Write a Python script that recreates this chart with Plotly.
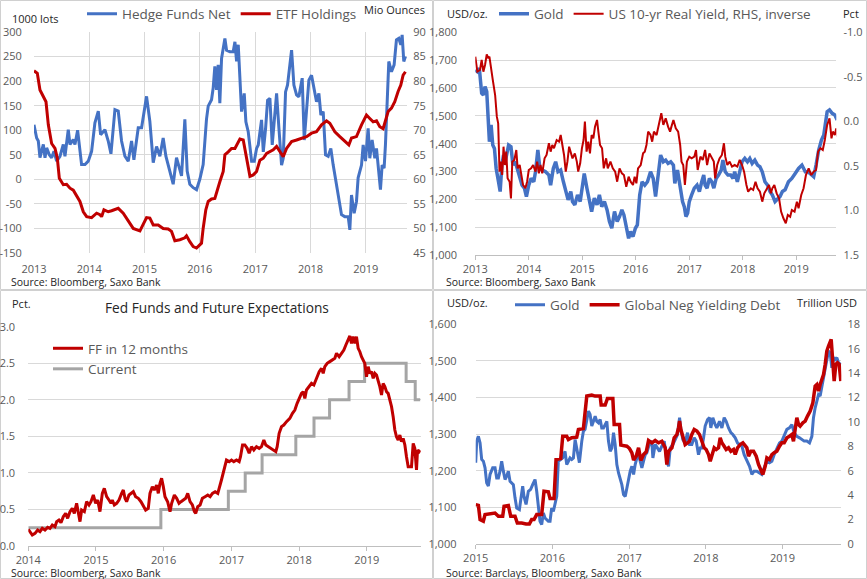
import plotly.graph_objects as go
from datetime import datetime, timedelta

W, H = 867, 579
BLUE, RED, GRAY = "#4472C4", "#C00000", "#A5A5A5"
GRID = "#D9D9D9"
TXT = "#595959"
FONT = "Open Sans"

# ---------------- data (decimal year, value) ----------------
hedge_funds = [(2013.000,111),(2013.048,84),(2013.078,78),(2013.108,44),(2013.169,71),(2013.199,44),(2013.229,64),(2013.277,50),(2013.319,44),(2013.361,57),(2013.410,37),(2013.470,47),(2013.530,71),(2013.560,47),(2013.620,101),(2013.651,71),(2013.711,81),(2013.741,71),(2013.789,100),(2013.831,64),(2013.861,30),(2013.922,30),(2013.982,37),(2014.042,57),(2014.102,115),(2014.163,139),(2014.205,91),(2014.283,101),(2014.343,78),(2014.392,52),(2014.464,142),(2014.524,139),(2014.584,78),(2014.645,47),(2014.705,37),(2014.765,78),(2014.807,40),(2014.886,105),(2014.946,105),(2015.036,169),(2015.096,118),(2015.157,34),(2015.217,67),(2015.277,47),(2015.337,84),(2015.386,47),(2015.458,17),(2015.518,-10),(2015.578,44),(2015.627,23),(2015.669,7),(2015.729,122),(2015.771,17),(2015.819,-10),(2015.880,-17),(2015.940,-21),(2016.000,0),(2016.060,30),(2016.090,78),(2016.120,122),(2016.151,149),(2016.211,162),(2016.241,186),(2016.271,230),(2016.301,182),(2016.331,233),(2016.361,155),(2016.392,246),(2016.452,287),(2016.482,263),(2016.542,260),(2016.602,260),(2016.633,280),(2016.663,240),(2016.693,274),(2016.723,212),(2016.753,138),(2016.801,175),(2016.831,117),(2016.873,97),(2016.934,37),(2016.982,37),(2017.024,63),(2017.054,70),(2017.114,121),(2017.145,56),(2017.187,104),(2017.223,161),(2017.265,165),(2017.307,70),(2017.343,111),(2017.386,175),(2017.428,104),(2017.476,29),(2017.506,43),(2017.548,178),(2017.584,192),(2017.627,240),(2017.657,263),(2017.699,192),(2017.747,172),(2017.789,168),(2017.849,206),(2017.886,80),(2017.928,152),(2017.970,202),(2018.018,212),(2018.066,182),(2018.108,158),(2018.151,175),(2018.187,131),(2018.229,138),(2018.271,50),(2018.319,47),(2018.367,63),(2018.410,29),(2018.452,3),(2018.500,-32),(2018.560,-72),(2018.620,-76),(2018.681,-76),(2018.711,-103),(2018.741,-32),(2018.789,-69),(2018.831,-45),(2018.861,3),(2018.922,29),(2018.952,70),(2018.994,37),(2019.042,104),(2019.072,43),(2019.114,80),(2019.163,43),(2019.193,63),(2019.235,16),(2019.265,-21),(2019.295,29),(2019.331,23),(2019.355,70),(2019.392,178),(2019.416,240),(2019.464,219),(2019.512,233),(2019.554,284),(2019.596,287),(2019.633,274),(2019.657,294),(2019.687,240),(2019.717,250)]

etf_holdings = [(2013.000,82.1),(2013.060,81.6),(2013.108,78.2),(2013.169,76.8),(2013.217,75.8),(2013.259,71.1),(2013.319,67.3),(2013.380,66.3),(2013.422,64.3),(2013.458,60.2),(2013.530,58.9),(2013.590,59.0),(2013.651,58.2),(2013.711,57.8),(2013.771,56.5),(2013.831,55.5),(2013.892,53.4),(2013.952,52.4),(2014.042,52.2),(2014.133,53.1),(2014.193,52.8),(2014.223,52.4),(2014.265,53.8),(2014.343,53.4),(2014.404,53.6),(2014.524,54.1),(2014.614,53.1),(2014.705,51.4),(2014.795,50.0),(2014.916,49.5),(2014.976,50.7),(2015.036,52.2),(2015.096,52.1),(2015.157,50.7),(2015.247,50.7),(2015.337,50.0),(2015.428,49.9),(2015.488,49.4),(2015.548,47.5),(2015.639,47.7),(2015.729,48.1),(2015.759,48.5),(2015.819,47.3),(2015.880,46.3),(2015.940,46.0),(2016.000,46.8),(2016.030,47.0),(2016.060,50.0),(2016.108,53.8),(2016.151,55.5),(2016.211,56.0),(2016.271,56.1),(2016.319,58.2),(2016.361,59.5),(2016.422,61.6),(2016.452,65.0),(2016.512,65.6),(2016.572,66.3),(2016.633,66.3),(2016.723,68.2),(2016.783,68.0),(2016.825,65.6),(2016.873,62.3),(2016.904,60.6),(2016.964,60.9),(2017.024,61.6),(2017.084,63.9),(2017.145,64.3),(2017.205,65.3),(2017.265,65.6),(2017.325,66.0),(2017.386,66.7),(2017.446,65.6),(2017.506,64.6),(2017.566,66.3),(2017.657,67.7),(2017.747,68.0),(2017.837,68.4),(2017.928,68.7),(2018.018,69.4),(2018.108,69.7),(2018.199,71.1),(2018.289,71.9),(2018.349,71.4),(2018.440,69.7),(2018.530,68.7),(2018.620,67.7),(2018.693,67.0),(2018.741,68.4),(2018.831,68.7),(2018.922,71.1),(2019.012,73.1),(2019.072,72.4),(2019.133,71.7),(2019.193,71.9),(2019.253,70.7),(2019.313,70.3),(2019.373,72.4),(2019.404,73.8),(2019.464,74.5),(2019.524,75.8),(2019.584,77.9),(2019.633,79.2),(2019.675,81.2),(2019.717,81.9)]

gold_2013 = [(2013.000,1665),(2013.038,1659),(2013.075,1671),(2013.119,1581),(2013.151,1575),(2013.182,1605),(2013.214,1587),(2013.245,1491),(2013.264,1407),(2013.296,1467),(2013.327,1395),(2013.358,1383),(2013.390,1311),(2013.434,1263),(2013.465,1228),(2013.497,1323),(2013.528,1359),(2013.560,1335),(2013.623,1395),(2013.667,1389),(2013.704,1323),(2013.748,1335),(2013.811,1287),(2013.874,1251),(2013.918,1240),(2013.956,1210),(2014.000,1251),(2014.044,1275),(2014.094,1263),(2014.126,1299),(2014.170,1377),(2014.208,1311),(2014.252,1305),(2014.314,1299),(2014.377,1287),(2014.409,1251),(2014.459,1311),(2014.503,1335),(2014.547,1299),(2014.597,1305),(2014.648,1263),(2014.692,1228),(2014.736,1198),(2014.786,1228),(2014.818,1192),(2014.862,1180),(2014.912,1216),(2014.962,1192),(2014.994,1228),(2015.038,1293),(2015.088,1240),(2015.132,1198),(2015.176,1156),(2015.226,1204),(2015.277,1180),(2015.321,1216),(2015.365,1174),(2015.415,1192),(2015.465,1162),(2015.509,1120),(2015.553,1096),(2015.604,1156),(2015.654,1120),(2015.698,1138),(2015.742,1162),(2015.780,1144),(2015.824,1096),(2015.868,1060),(2015.906,1084),(2015.950,1066),(2015.994,1096),(2016.031,1108),(2016.075,1216),(2016.119,1263),(2016.170,1251),(2016.220,1263),(2016.277,1299),(2016.327,1275),(2016.371,1210),(2016.415,1287),(2016.465,1359),(2016.516,1335),(2016.560,1341),(2016.604,1329),(2016.654,1335),(2016.704,1323),(2016.730,1257),(2016.780,1305),(2016.811,1263),(2016.843,1228),(2016.874,1192),(2016.906,1174),(2016.937,1138),(2016.969,1150),(2017.000,1192),(2017.044,1216),(2017.094,1240),(2017.145,1251),(2017.189,1228),(2017.233,1263),(2017.270,1287),(2017.296,1251),(2017.333,1240),(2017.377,1275),(2017.421,1263),(2017.459,1240),(2017.503,1275),(2017.547,1287),(2017.597,1305),(2017.629,1341),(2017.673,1299),(2017.723,1287),(2017.774,1287),(2017.818,1275),(2017.849,1299),(2017.899,1263),(2017.943,1299),(2017.987,1335),(2018.038,1347),(2018.088,1335),(2018.132,1347),(2018.176,1329),(2018.226,1341),(2018.277,1323),(2018.321,1317),(2018.365,1299),(2018.415,1263),(2018.465,1251),(2018.509,1228),(2018.553,1216),(2018.604,1192),(2018.654,1204),(2018.698,1210),(2018.742,1228),(2018.792,1234),(2018.855,1263),(2018.918,1275),(2018.981,1293),(2019.044,1311),(2019.107,1323),(2019.170,1299),(2019.220,1299),(2019.264,1293),(2019.327,1281),(2019.371,1323),(2019.421,1377),(2019.472,1413),(2019.516,1431),(2019.547,1473),(2019.579,1515),(2019.623,1521),(2019.673,1509),(2019.723,1503),(2019.767,1485)]

real_yield = [(2013.000,-0.727),(2013.038,-0.558),(2013.088,-0.577),(2013.119,-0.689),(2013.151,-0.558),(2013.182,-0.633),(2013.214,-0.753),(2013.245,-0.708),(2013.264,-0.727),(2013.289,-0.596),(2013.327,-0.465),(2013.371,-0.296),(2013.403,-0.053),(2013.428,0.022),(2013.453,0.564),(2013.478,0.452),(2013.503,0.602),(2013.528,0.284),(2013.553,0.490),(2013.579,0.340),(2013.604,0.639),(2013.642,0.677),(2013.667,0.864),(2013.692,0.452),(2013.730,0.433),(2013.767,0.321),(2013.792,0.527),(2013.830,0.490),(2013.855,0.564),(2013.893,0.714),(2013.937,0.751),(2013.969,0.677),(2014.000,0.546),(2014.044,0.527),(2014.082,0.490),(2014.126,0.564),(2014.157,0.452),(2014.189,0.583),(2014.220,0.490),(2014.252,0.583),(2014.296,0.415),(2014.333,0.377),(2014.377,0.246),(2014.409,0.340),(2014.440,0.265),(2014.472,0.302),(2014.522,0.209),(2014.566,0.228),(2014.597,0.153),(2014.629,0.265),(2014.660,0.377),(2014.692,0.564),(2014.723,0.452),(2014.755,0.284),(2014.786,0.359),(2014.818,0.415),(2014.862,0.359),(2014.899,0.452),(2014.925,0.564),(2014.962,0.471),(2014.994,0.302),(2015.025,0.209),(2015.050,0.003),(2015.082,0.340),(2015.113,0.228),(2015.145,0.359),(2015.176,0.153),(2015.208,0.190),(2015.239,0.059),(2015.277,-0.016),(2015.302,0.115),(2015.333,0.265),(2015.371,0.302),(2015.403,0.527),(2015.447,0.415),(2015.478,0.527),(2015.528,0.452),(2015.572,0.527),(2015.616,0.564),(2015.654,0.677),(2015.698,0.527),(2015.742,0.583),(2015.780,0.602),(2015.824,0.733),(2015.868,0.621),(2015.906,0.677),(2015.950,0.714),(2015.981,0.621),(2016.013,0.695),(2016.044,0.527),(2016.094,0.490),(2016.138,0.359),(2016.170,0.340),(2016.201,0.265),(2016.233,0.115),(2016.277,0.153),(2016.308,0.228),(2016.340,0.115),(2016.390,0.153),(2016.434,0.040),(2016.478,-0.091),(2016.516,0.040),(2016.560,-0.034),(2016.604,0.059),(2016.642,0.115),(2016.667,0.059),(2016.704,-0.016),(2016.748,0.078),(2016.792,0.115),(2016.830,0.265),(2016.855,0.452),(2016.887,0.490),(2016.918,0.714),(2016.956,0.452),(2017.000,0.396),(2017.044,0.415),(2017.094,0.396),(2017.126,0.321),(2017.157,0.546),(2017.208,0.396),(2017.252,0.433),(2017.296,0.321),(2017.333,0.490),(2017.377,0.359),(2017.421,0.415),(2017.459,0.452),(2017.484,0.639),(2017.522,0.490),(2017.566,0.415),(2017.610,0.377),(2017.648,0.246),(2017.673,0.396),(2017.711,0.490),(2017.755,0.452),(2017.799,0.508),(2017.849,0.490),(2017.899,0.508),(2017.943,0.433),(2017.987,0.490),(2018.025,0.564),(2018.069,0.714),(2018.101,0.789),(2018.151,0.751),(2018.195,0.770),(2018.239,0.677),(2018.277,0.751),(2018.321,0.789),(2018.365,0.901),(2018.403,0.808),(2018.447,0.751),(2018.491,0.714),(2018.528,0.808),(2018.553,0.751),(2018.591,0.714),(2018.635,0.808),(2018.679,0.864),(2018.717,1.013),(2018.761,1.088),(2018.805,1.144),(2018.843,1.051),(2018.887,1.070),(2018.918,0.995),(2018.969,1.013),(2019.013,0.901),(2019.044,0.976),(2019.094,0.826),(2019.138,0.751),(2019.182,0.602),(2019.233,0.527),(2019.283,0.602),(2019.327,0.564),(2019.371,0.546),(2019.409,0.340),(2019.453,0.302),(2019.497,0.321),(2019.535,0.209),(2019.579,0.040),(2019.623,-0.034),(2019.660,0.190),(2019.686,0.115),(2019.723,0.153),(2019.748,0.078),(2019.774,0.172)]

ff_12m = [(2014.000,0.228),(2014.025,0.196),(2014.059,0.150),(2014.099,0.173),(2014.138,0.219),(2014.172,0.196),(2014.207,0.242),(2014.246,0.219),(2014.286,0.255),(2014.320,0.242),(2014.355,0.287),(2014.394,0.264),(2014.419,0.333),(2014.453,0.356),(2014.483,0.319),(2014.517,0.401),(2014.552,0.447),(2014.581,0.378),(2014.616,0.470),(2014.650,0.515),(2014.680,0.447),(2014.714,0.584),(2014.739,0.470),(2014.764,0.333),(2014.788,0.492),(2014.828,0.470),(2014.862,0.606),(2014.897,0.561),(2014.926,0.606),(2014.961,0.698),(2014.995,0.584),(2015.025,0.629),(2015.059,0.470),(2015.094,0.720),(2015.123,0.789),(2015.158,0.675),(2015.192,0.629),(2015.222,0.584),(2015.241,0.629),(2015.271,0.561),(2015.305,0.584),(2015.340,0.629),(2015.379,0.720),(2015.404,0.766),(2015.429,0.652),(2015.453,0.606),(2015.488,0.698),(2015.517,0.720),(2015.552,0.743),(2015.586,0.675),(2015.626,0.652),(2015.665,0.606),(2015.700,0.538),(2015.734,0.492),(2015.773,0.515),(2015.798,0.720),(2015.833,0.812),(2015.862,0.766),(2015.897,0.834),(2015.921,0.720),(2015.946,0.857),(2015.970,0.926),(2015.995,0.812),(2016.020,0.675),(2016.059,0.606),(2016.094,0.470),(2016.118,0.584),(2016.158,0.698),(2016.192,0.652),(2016.227,0.584),(2016.256,0.606),(2016.291,0.629),(2016.325,0.652),(2016.355,0.720),(2016.389,0.606),(2016.424,0.561),(2016.453,0.470),(2016.473,0.447),(2016.502,0.538),(2016.537,0.561),(2016.571,0.652),(2016.611,0.675),(2016.650,0.698),(2016.685,0.675),(2016.719,0.720),(2016.759,0.743),(2016.798,0.720),(2016.852,0.903),(2016.877,0.994),(2016.901,1.085),(2016.926,1.176),(2016.966,1.154),(2017.000,1.176),(2017.034,1.154),(2017.074,1.176),(2017.113,1.154),(2017.133,1.222),(2017.163,1.382),(2017.197,1.382),(2017.232,1.336),(2017.261,1.268),(2017.296,1.359),(2017.330,1.313),(2017.369,1.359),(2017.409,1.336),(2017.443,1.359),(2017.478,1.450),(2017.507,1.382),(2017.542,1.359),(2017.576,1.336),(2017.616,1.313),(2017.655,1.290),(2017.675,1.359),(2017.704,1.541),(2017.739,1.633),(2017.773,1.655),(2017.813,1.701),(2017.862,1.746),(2017.901,1.815),(2017.936,1.860),(2017.970,1.952),(2018.000,2.020),(2018.034,2.088),(2018.059,2.111),(2018.084,2.020),(2018.108,2.134),(2018.148,2.180),(2018.182,2.225),(2018.217,2.202),(2018.256,2.294),(2018.296,2.385),(2018.330,2.430),(2018.355,2.362),(2018.379,2.453),(2018.414,2.499),(2018.453,2.522),(2018.493,2.544),(2018.527,2.567),(2018.552,2.636),(2018.591,2.590),(2018.626,2.636),(2018.660,2.681),(2018.690,2.750),(2018.724,2.818),(2018.749,2.873),(2018.773,2.772),(2018.798,2.864),(2018.823,2.772),(2018.847,2.864),(2018.872,2.704),(2018.897,2.658),(2018.921,2.590),(2018.946,2.544),(2018.970,2.499),(2018.995,2.316),(2019.020,2.453),(2019.044,2.362),(2019.069,2.385),(2019.094,2.294),(2019.118,2.362),(2019.143,2.339),(2019.167,2.271),(2019.192,2.180),(2019.217,2.066),(2019.241,2.225),(2019.266,2.180),(2019.291,2.111),(2019.315,2.088),(2019.340,1.997),(2019.365,1.906),(2019.389,1.769),(2019.414,1.587),(2019.438,1.496),(2019.463,1.450),(2019.488,1.518),(2019.512,1.427),(2019.537,1.473),(2019.562,1.382),(2019.586,1.222),(2019.611,1.085),(2019.635,1.085),(2019.660,1.085),(2019.685,1.404),(2019.709,1.336),(2019.734,1.040),(2019.749,1.313),(2019.773,1.290),(2019.790,1.310)]

ff_current_dates = ["2014-01-01","2015-12-17","2016-12-15","2017-03-16","2017-06-15","2017-12-14","2018-03-22","2018-06-14","2018-09-27","2018-12-20","2019-08-01","2019-09-19","2019-10-16"]
ff_current_vals = [0.25,0.50,0.75,1.00,1.25,1.50,1.75,2.00,2.25,2.50,2.25,2.00,2.00]

gold_2015 = [(2015.000,1222),(2015.013,1281),(2015.035,1294),(2015.057,1276),(2015.078,1231),(2015.100,1226),(2015.122,1208),(2015.143,1167),(2015.165,1158),(2015.187,1190),(2015.222,1208),(2015.252,1208),(2015.274,1180),(2015.296,1180),(2015.317,1199),(2015.339,1226),(2015.361,1199),(2015.383,1176),(2015.404,1185),(2015.426,1199),(2015.448,1171),(2015.470,1167),(2015.491,1162),(2015.513,1126),(2015.535,1098),(2015.570,1094),(2015.587,1126),(2015.613,1158),(2015.630,1130),(2015.657,1108),(2015.687,1144),(2015.717,1149),(2015.743,1162),(2015.774,1176),(2015.796,1144),(2015.817,1098),(2015.839,1062),(2015.861,1053),(2015.883,1085),(2015.904,1071),(2015.926,1067),(2015.948,1062),(2015.970,1062),(2015.991,1098),(2016.013,1089),(2016.035,1112),(2016.057,1130),(2016.078,1226),(2016.109,1231),(2016.135,1235),(2016.165,1253),(2016.187,1217),(2016.209,1226),(2016.230,1235),(2016.252,1231),(2016.274,1235),(2016.296,1285),(2016.326,1244),(2016.352,1222),(2016.383,1281),(2016.404,1308),(2016.426,1313),(2016.448,1335),(2016.470,1363),(2016.491,1354),(2016.513,1322),(2016.535,1335),(2016.557,1349),(2016.578,1335),(2016.600,1331),(2016.622,1340),(2016.643,1317),(2016.665,1317),(2016.687,1326),(2016.709,1335),(2016.730,1281),(2016.752,1253),(2016.774,1262),(2016.796,1304),(2016.817,1272),(2016.839,1217),(2016.861,1194),(2016.883,1180),(2016.904,1162),(2016.926,1135),(2016.948,1130),(2016.970,1153),(2016.991,1180),(2017.013,1199),(2017.035,1212),(2017.057,1190),(2017.078,1217),(2017.100,1235),(2017.122,1244),(2017.143,1226),(2017.165,1208),(2017.187,1226),(2017.209,1244),(2017.230,1249),(2017.252,1267),(2017.274,1281),(2017.296,1276),(2017.309,1235),(2017.339,1272),(2017.370,1262),(2017.396,1253),(2017.426,1267),(2017.457,1281),(2017.491,1226),(2017.513,1212),(2017.535,1262),(2017.570,1272),(2017.600,1285),(2017.630,1299),(2017.657,1345),(2017.674,1313),(2017.700,1285),(2017.730,1276),(2017.761,1304),(2017.787,1272),(2017.817,1272),(2017.848,1290),(2017.874,1281),(2017.904,1244),(2017.926,1262),(2017.948,1262),(2017.970,1290),(2017.991,1322),(2018.022,1340),(2018.048,1345),(2018.065,1317),(2018.091,1345),(2018.122,1326),(2018.143,1317),(2018.178,1335),(2018.209,1317),(2018.239,1345),(2018.265,1335),(2018.296,1317),(2018.326,1304),(2018.352,1299),(2018.383,1290),(2018.413,1276),(2018.439,1272),(2018.470,1267),(2018.500,1244),(2018.535,1226),(2018.570,1212),(2018.600,1190),(2018.630,1199),(2018.665,1199),(2018.700,1194),(2018.730,1190),(2018.761,1208),(2018.796,1226),(2018.830,1222),(2018.861,1226),(2018.891,1244),(2018.926,1262),(2018.961,1276),(2018.991,1281),(2019.022,1294),(2019.057,1313),(2019.091,1317),(2019.122,1326),(2019.152,1304),(2019.187,1294),(2019.222,1290),(2019.252,1285),(2019.283,1281),(2019.317,1281),(2019.352,1276),(2019.383,1294),(2019.404,1345),(2019.426,1372),(2019.448,1395),(2019.470,1408),(2019.491,1404),(2019.513,1431),(2019.535,1458),(2019.557,1481),(2019.578,1509),(2019.600,1527),(2019.622,1522),(2019.643,1481),(2019.665,1509),(2019.687,1504),(2019.709,1509),(2019.730,1495),(2019.761,1490)]

neg_debt = [(2015.000,3.23),(2015.035,3.17),(2015.057,2.0),(2015.100,1.86),(2015.122,2.41),(2015.187,2.46),(2015.252,2.54),(2015.296,2.27),(2015.352,2.27),(2015.370,3.09),(2015.426,3.15),(2015.457,2.27),(2015.513,2.27),(2015.543,1.72),(2015.600,1.72),(2015.657,1.64),(2015.700,1.64),(2015.730,2.0),(2015.761,2.0),(2015.796,2.41),(2015.861,2.41),(2015.891,4.32),(2015.948,4.27),(2015.970,3.72),(2016.022,3.72),(2016.048,6.92),(2016.109,7.0),(2016.135,8.83),(2016.187,8.83),(2016.209,8.56),(2016.252,8.70),(2016.317,8.75),(2016.339,9.38),(2016.404,9.46),(2016.448,12.12),(2016.513,12.2),(2016.557,12.12),(2016.622,12.12),(2016.635,11.38),(2016.687,11.38),(2016.717,11.93),(2016.787,11.93),(2016.804,9.79),(2016.874,9.79),(2016.891,8.10),(2016.970,8.01),(2017.004,7.82),(2017.035,7.47),(2017.057,6.87),(2017.091,7.19),(2017.122,7.88),(2017.152,6.84),(2017.187,7.33),(2017.222,7.55),(2017.252,8.48),(2017.296,8.29),(2017.339,8.48),(2017.383,8.29),(2017.426,8.42),(2017.470,7.88),(2017.491,6.51),(2017.513,7.60),(2017.557,7.88),(2017.587,8.70),(2017.622,8.97),(2017.643,9.52),(2017.657,10.07),(2017.674,9.38),(2017.700,8.70),(2017.730,8.15),(2017.761,8.29),(2017.787,8.42),(2017.817,8.97),(2017.848,9.38),(2017.883,9.25),(2017.917,8.97),(2017.948,8.42),(2017.978,7.88),(2018.004,7.74),(2018.035,7.33),(2018.057,6.78),(2018.078,7.33),(2018.109,7.88),(2018.135,7.74),(2018.165,7.88),(2018.187,8.70),(2018.209,8.29),(2018.239,8.01),(2018.265,7.74),(2018.296,7.88),(2018.326,7.60),(2018.361,7.74),(2018.383,7.33),(2018.413,7.88),(2018.448,8.15),(2018.483,8.29),(2018.513,8.01),(2018.535,7.88),(2018.557,7.19),(2018.587,7.60),(2018.622,7.60),(2018.657,7.19),(2018.687,6.51),(2018.717,5.96),(2018.743,5.69),(2018.774,6.37),(2018.796,7.06),(2018.830,6.92),(2018.861,7.33),(2018.891,7.47),(2018.926,7.60),(2018.961,8.01),(2018.991,8.29),(2019.022,8.29),(2019.057,8.70),(2019.091,8.83),(2019.122,8.97),(2019.143,8.42),(2019.165,9.38),(2019.187,10.34),(2019.209,9.79),(2019.230,9.66),(2019.265,9.93),(2019.296,10.07),(2019.326,10.48),(2019.361,10.89),(2019.396,11.57),(2019.426,12.94),(2019.448,13.07),(2019.470,12.53),(2019.491,13.07),(2019.513,13.48),(2019.535,13.89),(2019.557,14.72),(2019.578,15.81),(2019.600,16.22),(2019.622,16.49),(2019.635,16.77),(2019.652,15.26),(2019.674,13.35),(2019.696,14.72),(2019.717,14.85),(2019.739,14.72),(2019.761,13.35)]

years_p1 = [2013, 2014, 2015, 2016, 2017, 2018, 2019]
years_p3 = [2014, 2015, 2016, 2017, 2018, 2019]
years_p4 = [2015, 2016, 2017, 2018, 2019]
p1_left_ticks = [300, 250, 200, 150, 100, 50, 0, -50, -100, -150]
p1_right_ticks = [90, 85, 80, 75, 70, 65, 60, 55, 50, 45]
p2_left_ticks = [1000, 1100, 1200, 1300, 1400, 1500, 1600, 1700, 1800]
p2_right_ticks = [-1.0, -0.5, 0.0, 0.5, 1.0, 1.5]
p3_ticks = [0.0, 0.5, 1.0, 1.5, 2.0, 2.5, 3.0]
p4_left_ticks = [1000, 1100, 1200, 1300, 1400, 1500, 1600]
p4_right_ticks = [0, 2, 4, 6, 8, 10, 12, 14, 16, 18]


# ---------------- helpers ----------------
def dt(t):
    y = int(t)
    start = datetime(y, 1, 1)
    days = (datetime(y + 1, 1, 1) - start).days
    return start + timedelta(days=(t - y) * days)


def xs(series):
    return [dt(t) for t, _ in series]


def ys(series):
    return [v for _, v in series]


def px(x):
    return x / W


def py(y):
    return 1 - y / H


fig = go.Figure()

# Panel 1
fig.add_trace(go.Scatter(x=xs(hedge_funds), y=ys(hedge_funds), name="Hedge Funds Net", mode="lines",
                         line=dict(color=BLUE, width=3), xaxis="x", yaxis="y", legend="legend"))
fig.add_trace(go.Scatter(x=xs(etf_holdings), y=ys(etf_holdings), name="ETF Holdings", mode="lines",
                         line=dict(color=RED, width=3), xaxis="x", yaxis="y5", legend="legend"))
# Panel 2
fig.add_trace(go.Scatter(x=xs(gold_2013), y=ys(gold_2013), name="Gold", mode="lines",
                         line=dict(color=BLUE, width=3.5), xaxis="x2", yaxis="y2", legend="legend2"))
fig.add_trace(go.Scatter(x=xs(real_yield), y=ys(real_yield), name="US 10-yr Real Yield, RHS, inverse", mode="lines",
                         line=dict(color=RED, width=2), xaxis="x2", yaxis="y6", legend="legend2"))
# Panel 3
fig.add_trace(go.Scatter(x=ff_current_dates, y=ff_current_vals, name="Current", mode="lines",
                         line=dict(color=GRAY, width=3, shape="hv"), xaxis="x3", yaxis="y3",
                         legend="legend3", legendrank=2))
fig.add_trace(go.Scatter(x=xs(ff_12m), y=ys(ff_12m), name="FF in 12 months", mode="lines",
                         line=dict(color=RED, width=3), xaxis="x3", yaxis="y3",
                         legend="legend3", legendrank=1))
# Panel 4
fig.add_trace(go.Scatter(x=xs(gold_2015), y=ys(gold_2015), name="Gold", mode="lines",
                         line=dict(color=BLUE, width=3), xaxis="x4", yaxis="y4", legend="legend4"))
fig.add_trace(go.Scatter(x=xs(neg_debt), y=ys(neg_debt), name="Global Neg Yielding Debt", mode="lines",
                         line=dict(color=RED, width=3.5), xaxis="x4", yaxis="y7", legend="legend4"))

tickfont = dict(family=FONT, size=11, color=TXT)


def xaxis(x0, x1, y_anchor, years, end, grid, line, standoff):
    return dict(domain=[px(x0), px(x1)], anchor=y_anchor, type="date",
                range=[dt(years[0]), dt(end)],
                tickvals=[dt(y) for y in years], ticktext=[str(y) for y in years],
                showgrid=grid, gridcolor=GRID, gridwidth=1,
                showline=line, linecolor="#BFBFBF", linewidth=1,
                ticks="outside" if line else "", ticklen=4, tickcolor="#BFBFBF",
                tickfont=tickfont, zeroline=False, fixedrange=True,
                automargin=False, ticklabelstandoff=standoff)


def yaxis(y0, y1, x_anchor, rng, vals, texts, gap, grid=True, side="left", overlay=None):
    # invisible ticks of length `gap` keep the labels at the reference distance from the plot
    d = dict(domain=[py(y1), py(y0)], anchor=x_anchor, range=rng,
             tickvals=vals, ticktext=texts, showgrid=grid, gridcolor=GRID, gridwidth=1,
             zeroline=False, showline=False, ticks="outside", ticklen=gap,
             tickcolor="rgba(0,0,0,0)", tickfont=tickfont, side=side,
             fixedrange=True, automargin=False)
    if overlay:
        d["overlaying"] = overlay
        d.pop("domain")
    return d


layout = dict(
    width=W, height=H, margin=dict(l=0, r=0, t=0, b=0, pad=0, autoexpand=False),
    paper_bgcolor="white", plot_bgcolor="rgba(0,0,0,0)",
    font=dict(family=FONT, color=TXT),
    xaxis=xaxis(34, 407, "y", years_p1, 2019.745, True, False, 8),
    yaxis=yaxis(32, 253, "x", [-150, 300], p1_left_ticks, [str(v) for v in p1_left_ticks], 9),
    yaxis5=yaxis(32, 253, "x", [45, 90], p1_right_ticks, [str(v) for v in p1_right_ticks], 3,
                 grid=False, side="right", overlay="y"),
    xaxis2=xaxis(475.3, 836.3, "y2", years_p1, 2019.75, False, True, 0),
    yaxis2=yaxis(32.3, 255, "x2", [1000, 1800], p2_left_ticks, [f"{v:,}" for v in p2_left_ticks], 15),
    yaxis6=yaxis(32.3, 255, "x2", [1.5, -1.0], p2_right_ticks, [f"{v:.1f}" for v in p2_right_ticks], 4,
                 grid=False, side="right", overlay="y2"),
    xaxis3=xaxis(28.3, 420.7, "y3", years_p3, 2019.796, False, True, 0),
    yaxis3=yaxis(326.7, 546, "x3", [0, 3], p3_ticks, [f"{v:.1f}" for v in p3_ticks], 10),
    xaxis4=xaxis(475.7, 841.3, "y4", years_p4, 2019.767, False, True, 0),
    yaxis4=yaxis(324.3, 544, "x4", [1000, 1600], p4_left_ticks, [f"{v:,}" for v in p4_left_ticks], 16),
    yaxis7=yaxis(324.3, 544, "x4", [0, 18], p4_right_ticks, [str(v) for v in p4_right_ticks], 3,
                 grid=False, side="right", overlay="y4"),
    showlegend=True,
)

legfont = dict(family=FONT, size=13.5, color=TXT)
layout["legend"] = dict(orientation="h", x=px(82), y=py(14), xanchor="left", yanchor="middle",
                        font=legfont, bgcolor="rgba(0,0,0,0)", itemwidth=30)
layout["legend2"] = dict(orientation="h", x=px(494), y=py(14), xanchor="left", yanchor="middle",
                         font=legfont, bgcolor="rgba(0,0,0,0)", itemwidth=30)
layout["legend3"] = dict(orientation="v", x=px(48), y=py(359), xanchor="left", yanchor="middle",
                         font=legfont, bgcolor="rgba(0,0,0,0)", itemwidth=30, tracegroupgap=0)
layout["legend4"] = dict(orientation="h", x=px(510), y=py(305), xanchor="left", yanchor="middle",
                         font=legfont, bgcolor="rgba(0,0,0,0)", itemwidth=30)

fig.update_layout(**layout)

# Panel frames
frames = [(0, 0, 432, 289), (433, 0, 866, 289), (0, 290, 432, 578), (433, 290, 866, 578)]
for x0, y0, x1, y1 in frames:
    fig.add_shape(type="rect", xref="paper", yref="paper", x0=px(x0 + 0.5), x1=px(x1 + 0.5),
                  y0=py(y1 + 0.5), y1=py(y0 + 0.5), line=dict(color="#D0D0D0", width=1), layer="below")

# Text labels
labels = [
    ("1000 lots", 10, 19, 11, "#262626"),
    ("Mio Ounces", 362, 9, 11, "#262626"),
    ("Source: Bloomberg, Saxo Bank", 9, 282, 10.5, "#262626"),
    ("USD/oz.", 445, 13, 11, "#262626"),
    ("Pct", 841, 13, 11, "#262626"),
    ("Source: Bloomberg, Saxo Bank", 444, 282, 10.5, "#262626"),
    ("Pct.", 10, 303, 11, "#262626"),
    ("Source: Bloomberg, Saxo Bank", 9, 573, 10.5, "#262626"),
    ("USD/oz.", 445, 302, 11, "#262626"),
    ("Trillion USD", 795, 302, 11, "#262626"),
    ("Source: Barclays, Bloomberg, Saxo Bank", 444, 573, 10.5, "#262626"),
]
for text, x, y, size, color in labels:
    fig.add_annotation(text=text, x=px(x), y=py(y), xref="paper", yref="paper",
                       xanchor="left", yanchor="middle", showarrow=False,
                       font=dict(family=FONT, size=size, color=color))

fig.add_annotation(text="Fed Funds and Future Expectations", x=px(217), y=py(307), xref="paper", yref="paper",
                   xanchor="center", yanchor="middle", showarrow=False,
                   font=dict(family=FONT, size=13.7, color="#262626"))

fig.write_html("out.html",
               config={"displayModeBar": False, "responsive": False},
               post_script="document.body.style.margin='0';document.body.style.padding='0';"
                           "document.body.style.overflow='hidden';")
